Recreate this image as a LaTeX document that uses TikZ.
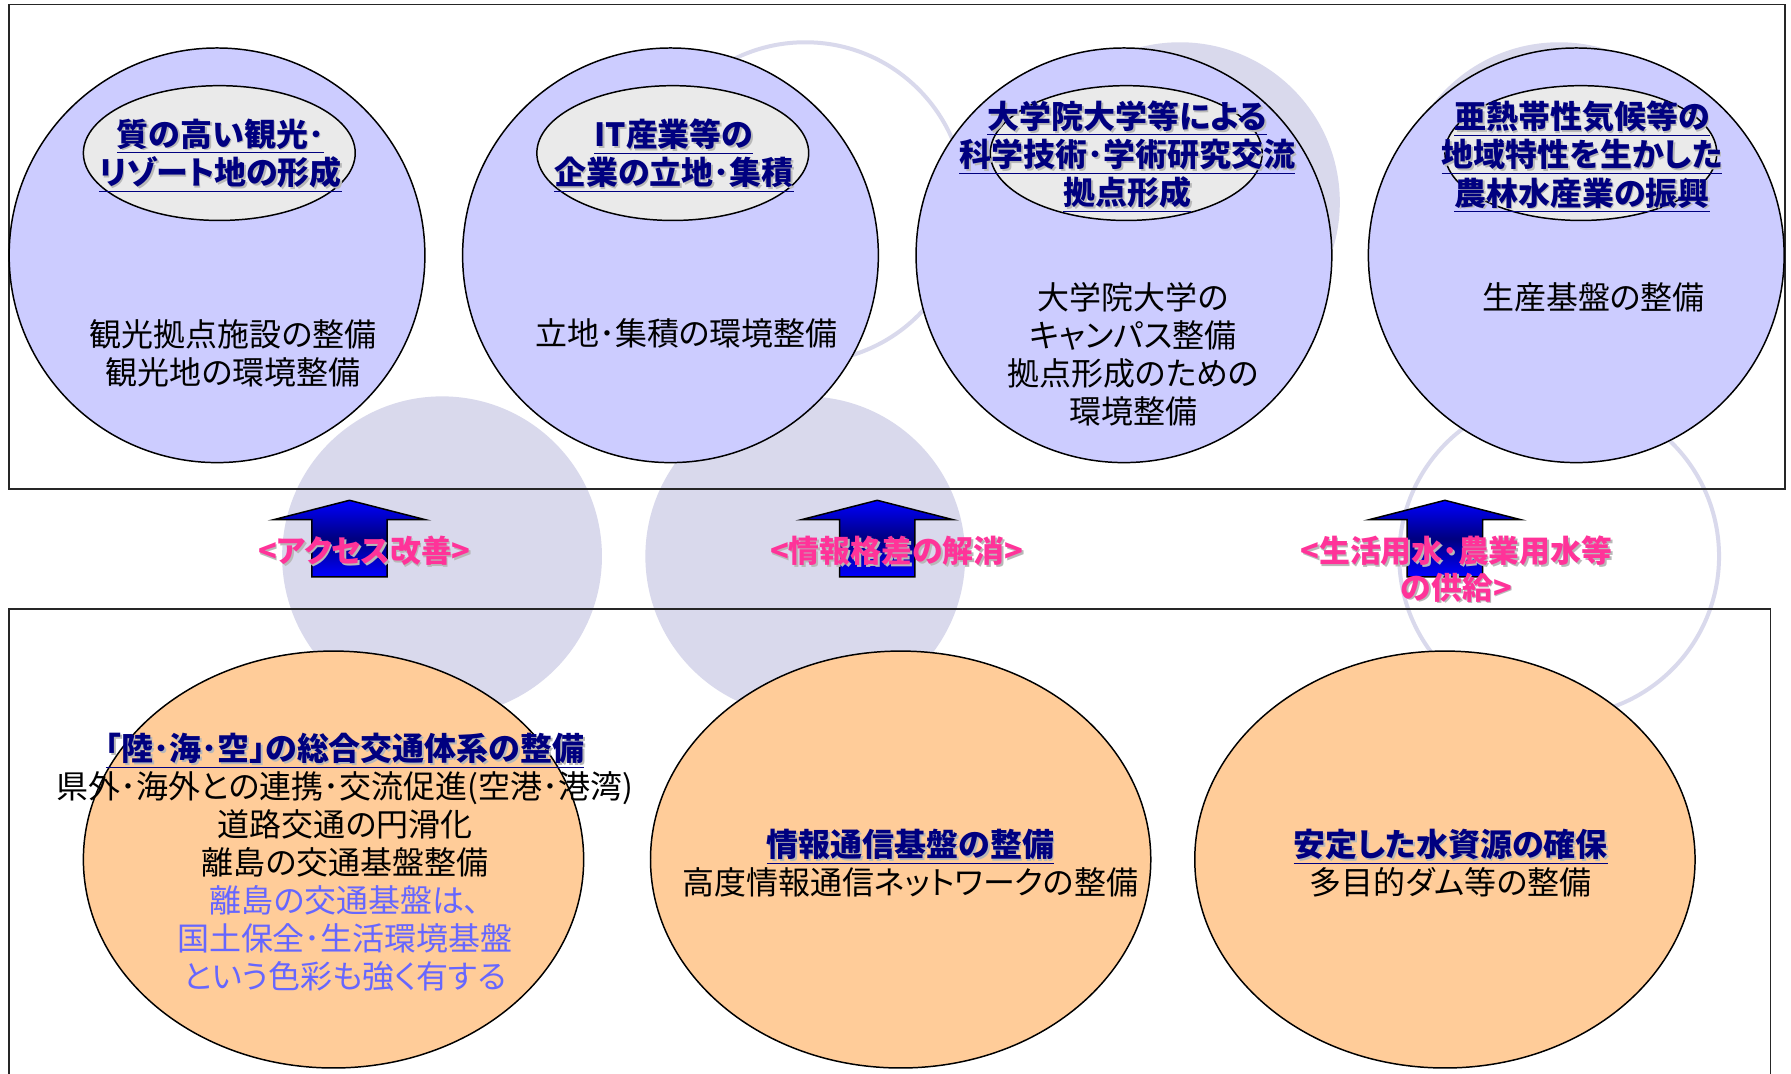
\documentclass[tikz,border=0pt]{standalone}
\usepackage{fontspec}
\setmainfont{Noto Sans CJK JP}[CharacterWidth=AlternateProportional]
\usetikzlibrary{shapes.geometric}
\definecolor{lav}{RGB}{204,204,255}
\definecolor{peach}{RGB}{255,204,153}
\definecolor{bgc}{RGB}{217,217,236}
\definecolor{navy}{RGB}{0,0,128}
\definecolor{pinkc}{RGB}{255,51,153}
\definecolor{violetc}{RGB}{102,102,255}
\definecolor{granite}{RGB}{234,234,234}
\newcommand\shd[1]{\leavevmode\rlap{\kern1.5pt\raisebox{-1.5pt}{\color{black!28}#1}}#1}
\newcommand\myul[1]{\underline{\shd{#1}}}
\begin{document}
\begin{tikzpicture}[x=1pt,y=-1pt,
  bgfill/.style={fill=bgc,draw=none},
  bgring/.style={draw=bgc,line width=3.5pt},
  boxframe/.style={draw=black!85,line width=1.5pt},
  topell/.style={ellipse,draw,line width=1.3pt,fill=lav,minimum width=364pt,minimum height=363pt,inner sep=0pt},
  inell/.style={ellipse,draw,line width=1.3pt,fill=granite,minimum width=238pt,minimum height=118pt,inner sep=0pt},
  botell/.style={ellipse,draw,line width=1.3pt,fill=peach,minimum width=438pt,minimum height=365pt,inner sep=0pt},
  ttl/.style={font=\bfseries\fontsize{28}{33.5}\selectfont,text=navy,align=center,inner sep=0pt},
  body/.style={font=\fontsize{28}{33.3}\selectfont,text=black,align=center,inner sep=0pt},
  lbl/.style={font=\bfseries\fontsize{27}{32}\selectfont,text=pinkc,align=center,inner sep=0pt},
  uparrow/.style={draw=black,line width=1.3pt,top color=blue,bottom color=blue,middle color=navy}
]
\useasboundingbox[fill=white] (0,0) rectangle (1568,940);
% background circles
\fill[bgfill] (387,487) circle[radius=140];
\fill[bgfill] (705,487) circle[radius=140];
\fill[bgfill] (1033,177) circle[radius=140];
\fill[bgfill] (1365,177) circle[radius=140];
\draw[bgring] (705,177) circle[radius=140];
\draw[bgring] (1365,487) circle[radius=140];
% frames
\draw[boxframe] (8,4) rectangle (1563,428);
\draw[boxframe] (8,950) -- (8,533) -- (1550,533) -- (1550,950);
% top ellipses
\node[topell] (t1) at (190,223.5) {};
\node[topell] (t2) at (587,223.5) {};
\node[topell] (t3) at (984,223.5) {};
\node[topell] (t4) at (1380,223.5) {};
\node[inell] (i1) at (192,134) {};
\node[inell] (i2) at (589,134) {};
\node[inell] (i3) at (986,134) {};
\node[inell] (i4) at (1384,134) {};
% titles
\node[ttl] (h1) at (193,136) {\myul{質の高い観光･}\\\myul{リゾート地の形成}};
\node[ttl] (h2) at (590,136) {\myul{IT産業等の}\\\myul{企業の立地･集積}};
\node[ttl] (h3) at (987,137) {\myul{大学院大学等による}\\\myul{科学技術･学術研究交流}\\\myul{拠点形成}};
\node[ttl] (h4) at (1385,137) {\myul{亜熱帯性気候等の}\\\myul{地域特性を生かした}\\\myul{農林水産業の振興}};
% bodies
\node[body] (d1) at (204,309) {観光拠点施設の整備\\観光地の環境整備};
\node[body] (d2) at (601,292) {立地･集積の環境整備};
\node[body] (d3) at (992,310) {大学院大学の\\キャンパス整備\\拠点形成のための\\環境整備};
\node[body] (d4) at (1395,260) {生産基盤の整備};
% arrows
\foreach \ax/\nm in {306/a1,768/a2,1265/a3}{
  \draw[uparrow] (\ax-66.5,455) -- (\ax,438) -- (\ax+66.5,455) -- (\ax+33,455) -- (\ax+33,505) -- (\ax-33,505) -- (\ax-33,455) -- cycle;
}
% labels
\node[lbl] (l1) at (319,483) {\shd{<アクセス改善>}};
\node[lbl] (l2) at (785,483) {\shd{<情報格差の解消>}};
\node[lbl] (l3) at (1275,499) {\shd{<生活用水･農業用水等}\\\shd{の供給>}};
% bottom ellipses
\node[botell] (e1) at (292,752.5) {};
\node[botell] (e2) at (788.5,752.5) {};
\node[botell] (e3) at (1265,752.5) {};
\node[body] (bt1) at (302,755) {{\bfseries\color{navy}\myul{｢陸･海･空｣の総合交通体系の整備}}\\県外･海外との連携･交流促進(空港･港湾)\\道路交通の円滑化\\離島の交通基盤整備\\{\color{violetc}離島の交通基盤は､}\\{\color{violetc}国土保全･生活環境基盤}\\{\color{violetc}という色彩も強く有する}};
\node[body] (bt2) at (797,755.5) {{\bfseries\color{navy}\myul{情報通信基盤の整備}}\\高度情報通信ネットワークの整備};
\node[body] (bt3) at (1270,755.5) {{\bfseries\color{navy}\myul{安定した水資源の確保}}\\多目的ダム等の整備};
\end{tikzpicture}
\end{document}
